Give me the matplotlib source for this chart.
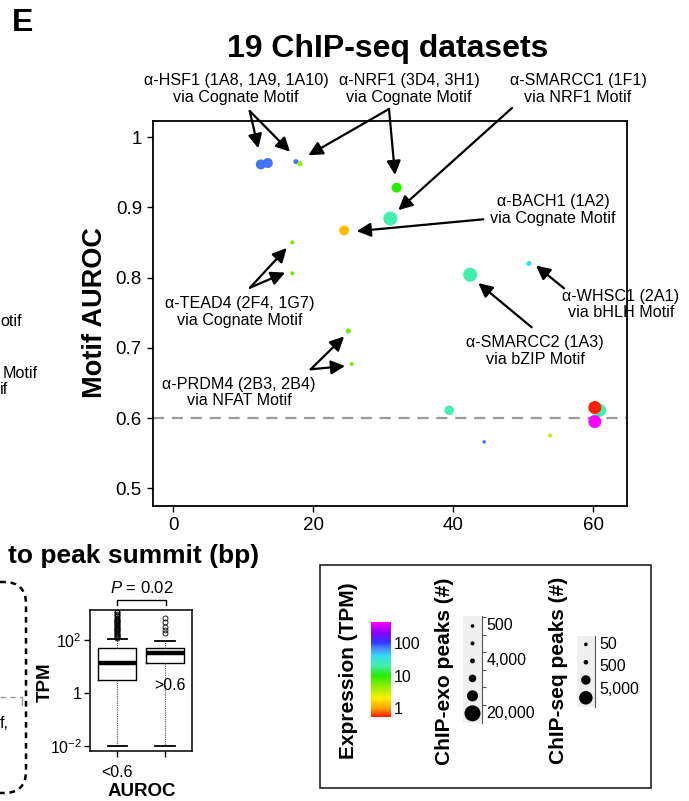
import numpy as np
import matplotlib
matplotlib.use("Agg")
import matplotlib.pyplot as plt
from matplotlib.colors import LinearSegmentedColormap, LogNorm
from matplotlib.patches import FancyBboxPatch, Rectangle
from matplotlib.lines import Line2D
from matplotlib.cm import ScalarMappable

plt.rcParams['font.family'] = ['Liberation Sans', 'DejaVu Sans']
plt.rcParams['mathtext.fontset'] = 'custom'
plt.rcParams['mathtext.rm'] = 'Liberation Sans'
plt.rcParams['mathtext.it'] = 'Liberation Sans:italic'
plt.rcParams['mathtext.default'] = 'regular'

# ---------------- data ----------------
dist_to_summit = [12.5, 13.5, 17.5, 18.1, 31.9, 31.0, 24.4, 17.0, 17.0, 50.8,
                  42.4, 25.0, 25.5, 39.4, 60.9, 60.2, 60.2, 44.4, 53.8]
motif_auroc = [0.961, 0.963, 0.965, 0.962, 0.928, 0.884, 0.867, 0.850, 0.806, 0.820,
               0.804, 0.724, 0.677, 0.611, 0.611, 0.615, 0.595, 0.566, 0.575]
expression_tpm = [75, 75, 75, 5, 10, 20, 1.3, 6, 6, 35,
                  20, 6, 6, 20, 20, 0.56, 430, 75, 3.5]
chipexo_peaks = [12500, 12500, 4400, 4400, 12500, 17700, 12500, 2000, 2000, 4400,
                 17700, 4400, 1500, 11800, 16400, 16400, 16400, 300, 1500]

x_ticks = [0, 20, 40, 60]
y_ticks = [0.5, 0.6, 0.7, 0.8, 0.9, 1.0]
y_ticklabels = ['0.5', '0.6', '0.7', '0.8', '0.9', '1']
auroc_threshold = 0.6

# annotations: label, label centre (fig px), arrow tail (fig px), arrow heads (data)
ann_labels = ['\u03b1-HSF1 (1A8, 1A9, 1A10)\nvia Cognate Motif',
              '\u03b1-NRF1 (3D4, 3H1)\nvia Cognate Motif',
              '\u03b1-SMARCC1 (1F1)\nvia NRF1 Motif',
              '\u03b1-BACH1 (1A2)\nvia Cognate Motif',
              '\u03b1-TEAD4 (2F4, 1G7)\nvia Cognate Motif',
              '\u03b1-PRDM4 (2B3, 2B4)\nvia NFAT Motif',
              '\u03b1-WHSC1 (2A1)\nvia bHLH Motif',
              '\u03b1-SMARCC2 (1A3)\nvia bZIP Motif']
ann_text_px = [(236, 89), (409, 89), (578, 89), (553, 210),
               (240, 312), (239, 392.5), (621, 304.3), (535, 351)]
ann_tail_px = [(249.7, 111), (389, 109), (512, 108), (483.3, 219.3),
               (250, 287.7), (310.7, 369.3), (564, 288.3), (531.7, 327.3)]
ann_heads = [[(12.14, 0.984), (16.67, 0.979)],
             [(19.29, 0.974), (31.67, 0.946)],
             [(32.14, 0.896)],
             [(26.2, 0.866)],
             [(16.2, 0.842), (15.96, 0.807)],
             [(24.39, 0.716), (24.53, 0.674)],
             [(51.81, 0.817)],
             [(43.57, 0.792)]]

# boxplot panel (TPM by AUROC group)
box_labels = ['<0.6', '>0.6']
box_q1 = [3.1, 13.2]
box_med = [13.2, 33]
box_q3 = [49, 49]
box_whislo = [0.01, 0.01]
box_whishi = [107, 93]
box_fliers = [[115, 125, 135, 146, 158, 170, 185, 200, 215, 232, 250, 270, 292, 315,
               340, 367, 396, 428, 462, 500, 540, 585, 640, 700, 780, 870, 980, 1100, 1180],
              [180, 240, 300, 480, 650]]
p_value_text = '$\\mathit{P}$ = 0.02'

# legends
tpm_ticks = [1, 10, 100]
tpm_ticklabels = ['1', '10', '100']
exo_legend_values = [20000, 14000, 9000, 4000, 2000, 500]
exo_legend_labels = {5: '500', 3: '4,000', 0: '20,000'}
seq_legend_values = [10000, 5000, 500, 50]
seq_legend_labels = ['50', '500', '5,000']

# ---------------- helpers ----------------
W, H = 689, 801
DPI = 100
ANN_FS = 11.6


def fx(x):
    return x / W


def fy(y):
    return 1 - y / H


def exo_diam_px(p):
    return 3.5 + 12.5 * (np.asarray(p, float) / 20000.0) ** 1.4


def seq_diam_px(p):
    return 3.5 + 10.0 * (np.asarray(p, float) / 10000.0) ** 0.75


def s_from_d(d):
    return (np.asarray(d) * 72.0 / DPI) ** 2


cpos = [-0.25, 0.0, 0.3, 0.65, 1.0, 1.3, 1.6, 1.85, 2.0, 2.3, 2.64]
ccol = ['#ff2000', '#ffa000', '#ffee00', '#99ee00', '#22ee00', '#44eeaa',
        '#33ddf0', '#4a80ff', '#2a3cff', '#8800ff', '#ff00ff']
lo, hi = cpos[0], cpos[-1]
cmap = LinearSegmentedColormap.from_list('expr', [((p - lo) / (hi - lo), c) for p, c in zip(cpos, ccol)])
norm = LogNorm(vmin=10 ** lo, vmax=10 ** hi)

fig = plt.figure(figsize=(W / DPI, H / DPI), dpi=DPI)

# ---------------- main scatter ----------------
ax = fig.add_axes([fx(153), fy(506), (627 - 153) / W, (506 - 121) / H])
ax.axhline(auroc_threshold, color='#9a9a9a', lw=1.6, dashes=(5, 3.5), zorder=1)
ax.scatter(dist_to_summit, motif_auroc, c=expression_tpm, cmap=cmap, norm=norm,
           s=s_from_d(exo_diam_px(chipexo_peaks)), linewidths=0, zorder=3)
ax.set_xlim(-2.9, 64.8)
ax.set_ylim(0.4748, 1.0228)
ax.set_xticks(x_ticks)
ax.set_yticks(y_ticks)
ax.set_yticklabels(y_ticklabels)
ax.tick_params(direction='out', length=4, width=1, labelsize=13.5, pad=4)
for sp in ax.spines.values():
    sp.set_linewidth(1.3)
fig.text(fx(95), fy(313), 'Motif AUROC', rotation=90, fontsize=19.5, weight='bold',
         ha='center', va='center')

for lab, tpx, tail, heads in zip(ann_labels, ann_text_px, ann_tail_px, ann_heads):
    fig.text(fx(tpx[0]), fy(tpx[1]), lab, fontsize=ANN_FS, ha='center', va='center',
             linespacing=1.12, zorder=5)
    for hd in heads:
        ax.annotate('', xy=hd, xycoords='data', xytext=(fx(tail[0]), fy(tail[1])),
                    textcoords='figure fraction', annotation_clip=False,
                    arrowprops=dict(arrowstyle='-|>,head_length=0.6,head_width=0.3',
                                    mutation_scale=14, lw=1.6, color='black',
                                    shrinkA=0, shrinkB=0))

fig.text(fx(12), fy(31), 'E', fontsize=23, weight='bold', va='baseline', ha='left')
fig.text(fx(388), fy(57), '19 ChIP-seq datasets', fontsize=23, weight='bold',
         ha='center', va='baseline')

# visible fragments of the neighbouring panel
fig.text(fx(0), fy(321.7), 'otif', fontsize=ANN_FS, ha='left', va='center')
fig.text(fx(3), fy(374), 'Motif', fontsize=ANN_FS, ha='left', va='center')
fig.text(fx(0), fy(389), 'if', fontsize=ANN_FS, ha='left', va='center')
fig.text(fx(8), fy(563), 'to peak summit (bp)', fontsize=19, weight='bold',
         ha='left', va='baseline')
fig.text(fx(0), fy(723), 'f,', fontsize=ANN_FS, ha='left', va='center')

box = FancyBboxPatch((-0.40, (H - 793) / DPI), 0.66, (793 - 582) / DPI,
                     boxstyle='round,pad=0,rounding_size=0.22',
                     transform=fig.dpi_scale_trans, fill=False, ec='black',
                     lw=1.8, ls=(0, (2.3, 1.9)))
fig.add_artist(box)
fig.add_artist(Line2D([0, fx(22)], [fy(697.3), fy(697.3)], transform=fig.transFigure,
                      color='#999999', lw=1, ls=(0, (4, 3))))
fig.add_artist(Line2D([fx(22), fx(22)], [fy(697.3), fy(705)], transform=fig.transFigure,
                      color='#999999', lw=1))

# ---------------- boxplot panel ----------------
bax = fig.add_axes([fx(90), fy(751), (192.3 - 90) / W, (751 - 610) / H])
stats = []
for lab, q1, md, q3, wl, wh, fl in zip(box_labels, box_q1, box_med, box_q3,
                                       box_whislo, box_whishi, box_fliers):
    stats.append(dict(label=lab, q1=q1, med=md, q3=q3, whislo=wl, whishi=wh,
                      fliers=np.array(fl)))
bax.set_yscale('log')
bax.bxp(stats, positions=[1, 2], widths=0.79, capwidths=0.4, showfliers=True,
        boxprops=dict(color='black', lw=1.0),
        medianprops=dict(color='black', lw=3.2, solid_capstyle='butt'),
        whiskerprops=dict(color='#555555', lw=0.8, ls=(0, (1, 1))),
        capprops=dict(color='black', lw=1.3),
        flierprops=dict(marker='o', mfc='none', mec='black', ms=3.6, mew=0.6))
bax.set_xlim(0.427, 2.573)
bax.set_ylim(10 ** -2.19, 10 ** 3.13)
bax.set_yticks([0.01, 1, 100])
bax.set_yticklabels(['10$^{-2}$', '1', '10$^{2}$'])
bax.yaxis.set_minor_locator(matplotlib.ticker.NullLocator())
bax.set_xticks([1, 2])
bax.set_xticklabels([box_labels[0], ''])
bax.tick_params(direction='out', length=4, width=1, labelsize=11.5, pad=2)
bax.tick_params(axis='x', pad=6)
for sp in bax.spines.values():
    sp.set_linewidth(1.1)
fig.text(fx(169.7), fy(685), box_labels[1], fontsize=11.5, ha='center', va='center')
fig.text(fx(45), fy(681.7), 'TPM', rotation=90, fontsize=13.5, weight='bold',
         ha='center', va='center')
fig.text(fx(141.7), fy(588.3), p_value_text, fontsize=12, ha='center', va='center')
fig.add_artist(Line2D([fx(117.3), fx(117.3), fx(165.7), fx(165.7)],
                      [fy(605), fy(600), fy(600), fy(605)],
                      transform=fig.transFigure, color='black', lw=1))
fig.text(fx(141.7), fy(800.5), 'AUROC', fontsize=13.5, weight='bold', ha='center',
         va='bottom')

# ---------------- legend panel ----------------
fig.add_artist(Rectangle((fx(320), fy(788.3)), (650.7 - 320) / W, (788.3 - 565) / H,
                         transform=fig.transFigure, fill=False, ec='#222222', lw=1.2))
fig.text(fx(348.3), fy(670.8), 'Expression (TPM)', rotation=90, fontsize=15,
         weight='bold', ha='center', va='center')
fig.text(fx(445), fy(671.7), 'ChIP-exo peaks (#)', rotation=90, fontsize=15,
         weight='bold', ha='center', va='center')
fig.text(fx(558.3), fy(670.7), 'ChIP-seq peaks (#)', rotation=90, fontsize=15,
         weight='bold', ha='center', va='center')

cax = fig.add_axes([fx(371), fy(716.7), 20 / W, 95 / H])
cb = fig.colorbar(ScalarMappable(norm=norm, cmap=cmap), cax=cax, ticks=tpm_ticks)
cb.ax.set_yticklabels(tpm_ticklabels)
cb.ax.yaxis.set_minor_locator(matplotlib.ticker.NullLocator())
cb.outline.set_visible(False)
cb.ax.tick_params(length=0, labelsize=11.5, pad=2)

# ChIP-exo size legend
eax = fig.add_axes([fx(463.3), fy(723.3), 18.4 / W, 107.3 / H])
eax.set_facecolor('#efefef')
eidx = np.arange(len(exo_legend_values))
eax.scatter(np.zeros(len(eidx)), eidx, s=s_from_d(exo_diam_px(exo_legend_values)),
            color='black', linewidths=0)
eax.set_xlim(-1, 1)
eax.set_ylim(-0.57, 5.57)
eax.set_xticks([])
eax.yaxis.tick_right()
eax.set_yticks(eidx + 0.5)
eax.set_yticklabels([])
eax.tick_params(axis='y', length=3, width=0.8, color='#555555')
for k in ['top', 'left', 'bottom']:
    eax.spines[k].set_visible(False)
eax.spines['right'].set_color('#555555')
eax.spines['right'].set_linewidth(0.8)
blend = matplotlib.transforms.blended_transform_factory(fig.transFigure, eax.transData)
for i, lab in exo_legend_labels.items():
    fig.text(fx(486.7), i, lab, fontsize=11.5, ha='left', va='center', transform=blend)

# ChIP-seq size legend
sax = fig.add_axes([fx(576.7), fy(706.7), 18.3 / W, 70.7 / H])
sax.set_facecolor('#efefef')
sidx = np.arange(len(seq_legend_values))
sax.scatter(np.zeros(len(sidx)), sidx, s=s_from_d(seq_diam_px(seq_legend_values)),
            color='black', linewidths=0)
sax.set_xlim(-1, 1)
sax.set_ylim(-0.5, 3.47)
sax.set_xticks([])
sax.set_yticks([])
for k in ['top', 'left', 'bottom']:
    sax.spines[k].set_visible(False)
sax.spines['right'].set_color('#555555')
sax.spines['right'].set_linewidth(0.8)
for lab, ypx in zip(seq_legend_labels, [644.3, 666.7, 689.3]):
    fig.text(fx(599.3), fy(ypx), lab, fontsize=11.5, ha='left', va='center')

fig.savefig('out.png', dpi=DPI)
